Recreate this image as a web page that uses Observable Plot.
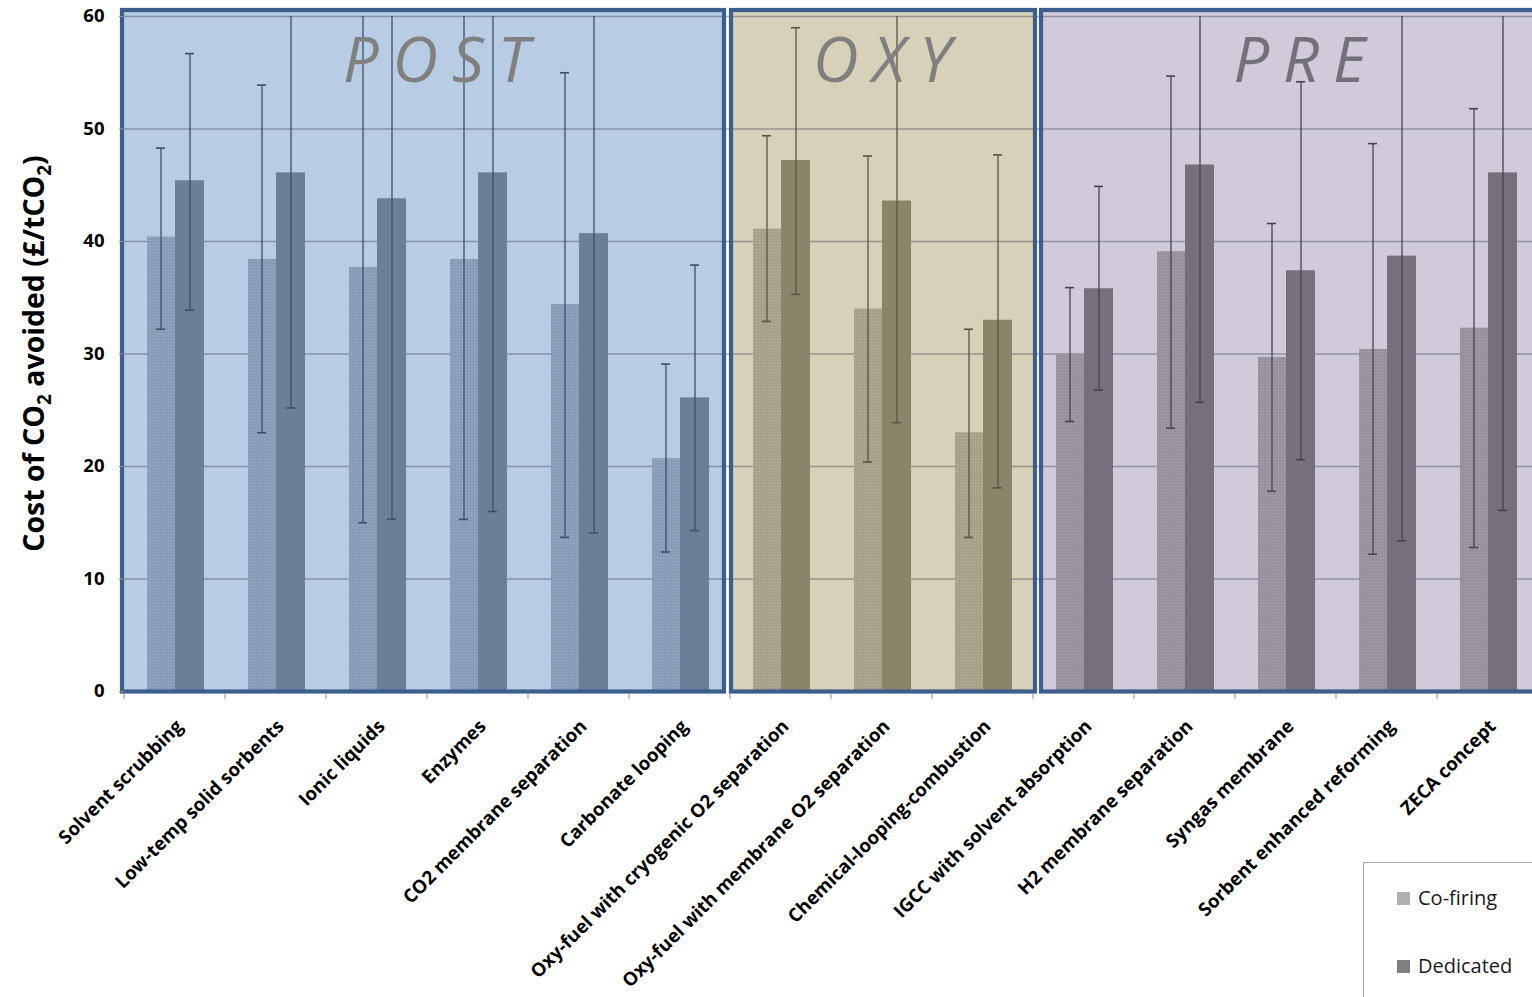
<!DOCTYPE html>
<html><head><meta charset="utf-8">
<script src="https://cdn.jsdelivr.net/npm/d3@7"></script>
<script src="https://cdn.jsdelivr.net/npm/@observablehq/plot@0.6"></script>
<style>
html,body{margin:0;padding:0;background:#fff;overflow:hidden;}
#wrap{position:relative;width:1532px;height:997px;overflow:hidden;}
#wrap svg{position:absolute;left:0;top:0;}
#legend{position:absolute;left:1363px;top:862px;width:200px;height:160px;border:1px solid #a6a6a6;background:#fff;font-family:'Open Sans',sans-serif;font-size:20px;color:#1a1a1a;}
.item{position:absolute;left:33px;display:flex;align-items:center;line-height:1;}
.sw{width:13px;height:13px;margin-right:8px;}
</style></head><body><div id="wrap"><div id="legend"></div></div>
<script>
// ---------- DATA ----------
const categories = [
  "Solvent scrubbing", "Low-temp solid sorbents", "Ionic liquids", "Enzymes",
  "CO2 membrane separation", "Carbonate looping",
  "Oxy-fuel with cryogenic O2 separation", "Oxy-fuel with membrane O2 separation",
  "Chemical-looping-combustion",
  "IGCC with solvent absorption", "H2 membrane separation", "Syngas membrane",
  "Sorbent enhanced reforming", "ZECA concept"
];
const groupOf = ["POST","POST","POST","POST","POST","POST","OXY","OXY","OXY","PRE","PRE","PRE","PRE","PRE"];
const groups = ["POST", "OXY", "PRE"];
const groupFirst = ["Solvent scrubbing", "Oxy-fuel with cryogenic O2 separation", "IGCC with solvent absorption"];
const groupLast = ["Carbonate looping", "Chemical-looping-combustion", "ZECA concept"];
const series = ["Co-firing", "Dedicated"];

const cofiring     = [40.4, 38.4, 37.7, 38.4, 34.4, 20.7, 41.1, 34.0, 23.0, 30.0, 39.1, 29.7, 30.4, 32.3];
const cofiringLow  = [32.2, 23.0, 15.0, 15.3, 13.7, 12.4, 32.9, 20.4, 13.7, 24.0, 23.4, 17.8, 12.2, 12.8];
const cofiringHigh = [48.3, 53.9, 60.0, 60.0, 55.0, 29.1, 49.4, 47.6, 32.2, 35.9, 54.7, 41.6, 48.7, 51.8];
const dedicated     = [45.4, 46.1, 43.8, 46.1, 40.7, 26.1, 47.2, 43.6, 33.0, 35.8, 46.8, 37.4, 38.7, 46.1];
const dedicatedLow  = [33.9, 25.2, 15.3, 16.0, 14.1, 14.3, 35.3, 23.9, 18.1, 26.8, 25.7, 20.6, 13.4, 16.1];
const dedicatedHigh = [56.7, 60.0, 60.0, 60.0, 60.0, 37.9, 59.0, 60.0, 47.7, 44.9, 60.0, 54.2, 60.0, 60.0];

const yTicks = [0, 10, 20, 30, 40, 50, 60];

// ---------- STYLE ----------
const regionBg   = {POST: "#b8cce4", OXY: "#d7d1b9", PRE: "#d0cada"};
const coColor    = {POST: "#8a9eb9", OXY: "#a8a28b", PRE: "#99939f"};
const dedColor   = {POST: "#6a7f98", OXY: "#8a846b", PRE: "#76707e"};
const errColor   = {POST: "#3e4f66", OXY: "#5a5544", PRE: "#48424f"};
const labelColor = {POST: "#808080", OXY: "#808080", PRE: "#74707c"};
const edgeLeft = [-2, 1, 8], edgeRight = [-6, 2, 10], labelShift = [20, 6, 12];
const borderColor = "#3b5e8c";
const xRange = [124, 1538];

// ---------- TABLE ----------
const rows = [];
categories.forEach((c, i) => {
  rows.push({category: c, group: groupOf[i], series: "Co-firing", value: cofiring[i], lo: cofiringLow[i], hi: cofiringHigh[i]});
  rows.push({category: c, group: groupOf[i], series: "Dedicated", value: dedicated[i], lo: dedicatedLow[i], hi: dedicatedHigh[i]});
});

function bandX(scales) {
  const x = scales && scales.x;
  if (x && typeof x.bandwidth === "function") return x;
  return d3.scaleBand(categories, xRange).padding(0);
}
function regionExtent(x, i) {
  const bw = x.bandwidth();
  return [x(groupFirst[i]) + edgeLeft[i], x(groupLast[i]) + bw + edgeRight[i]];
}

const regionFills = (index, scales) => {
  const x = bandX(scales), y = scales.y;
  const g = d3.create("svg:g");
  const defs = g.append("defs");
  groups.forEach(name => {
    const p = defs.append("pattern").attr("id", "tex-" + name).attr("patternUnits", "userSpaceOnUse").attr("width", 3).attr("height", 3);
    p.append("rect").attr("width", 3).attr("height", 3).attr("fill", coColor[name]);
    const c = d3.color(coColor[name]);
    p.append("rect").attr("x", 0).attr("y", 0).attr("width", 1).attr("height", 1).attr("fill", c.brighter(0.25).formatHex());
    p.append("rect").attr("x", 2).attr("y", 1).attr("width", 1).attr("height", 1).attr("fill", c.darker(0.15).formatHex());
  });
  groups.forEach((name, i) => {
    const [x1, x2] = regionExtent(x, i);
    g.append("rect").attr("x", x1).attr("width", x2 - x1)
      .attr("y", y(60) - 6).attr("height", y(0) - y(60) + 6.5)
      .attr("fill", regionBg[name]);
  });
  return g.node();
};
const regionBorders = (index, scales) => {
  const x = bandX(scales), y = scales.y;
  const g = d3.create("svg:g");
  groups.forEach((name, i) => {
    const [x1, x2] = regionExtent(x, i);
    g.append("rect").attr("x", x1).attr("width", x2 - x1)
      .attr("y", y(60) - 6).attr("height", y(0) - y(60) + 6.5)
      .attr("fill", "none").attr("stroke", borderColor).attr("stroke-width", 4.2);
  });
  return g.node();
};
const regionLabels = (index, scales) => {
  const x = bandX(scales), y = scales.y;
  const g = d3.create("svg:g");
  groups.forEach((name, i) => {
    const [x1, x2] = regionExtent(x, i);
    g.append("text").attr("x", (x1 + x2) / 2 + labelShift[i]).attr("y", y(60) + 66)
      .attr("text-anchor", "middle").attr("font-style", "italic").attr("font-size", 63)
      .attr("letter-spacing", 14).attr("fill", labelColor[name]).text(name);
  });
  return g.node();
};
const boundaryTicks = (index, scales, values, dims) => {
  const x = bandX(scales), y = scales.y, bw = x.bandwidth();
  const g = d3.create("svg:g").attr("stroke", "#8c8c8c").attr("stroke-width", 1);
  const xs = categories.map(c => x(c)).concat([x(categories[categories.length - 1]) + bw]);
  xs.forEach(v => g.append("line").attr("x1", v).attr("x2", v).attr("y1", y(0) + 2).attr("y2", y(0) + 8));
  return g.node();
};
const yTitle = (index, scales, values, dims) => {
  const cy = (dims.marginTop + dims.height - dims.marginBottom) / 2;
  const t = d3.create("svg:text").attr("transform", `translate(44,${cy}) rotate(-90)`)
    .attr("text-anchor", "middle").attr("font-weight", "bold").attr("font-size", 28.5).attr("fill", "#000");
  t.append("tspan").text("Cost of CO");
  t.append("tspan").attr("font-size", 19).attr("dy", 7).text("2");
  t.append("tspan").attr("dy", -7).text(" avoided (£/tCO");
  t.append("tspan").attr("font-size", 19).attr("dy", 7).text("2");
  t.append("tspan").attr("dy", -7).text(")");
  return t.node();
};

const marks = [regionFills, Plot.ruleY(yTicks.filter(v => v > 0), {stroke: "#3c465a", strokeOpacity: 0.42, strokeWidth: 1.3})];
groups.forEach(name => {
  const co = rows.filter(d => d.group === name && d.series === "Co-firing");
  const de = rows.filter(d => d.group === name && d.series === "Dedicated");
  marks.push(
    Plot.barY(co, {x: "category", y: "value", fill: `url(#tex-${name})`, insetLeft: 23, insetRight: 50}),
    Plot.barY(de, {x: "category", y: "value", fill: dedColor[name], insetLeft: 51, insetRight: 21}),
    Plot.ruleX(co, {x: "category", y1: "lo", y2: "hi", dx: -14, stroke: errColor[name], strokeWidth: 1.3}),
    Plot.ruleX(de, {x: "category", y1: "lo", y2: "hi", dx: 15, stroke: errColor[name], strokeWidth: 1.3}),
    Plot.tickY(co, {x: "category", y: "lo", insetLeft: 32, insetRight: 60, stroke: errColor[name], strokeWidth: 1.6}),
    Plot.tickY(co.filter(d => d.hi < 60), {x: "category", y: "hi", insetLeft: 32, insetRight: 60, stroke: errColor[name], strokeWidth: 1.6}),
    Plot.tickY(de, {x: "category", y: "lo", insetLeft: 61, insetRight: 31, stroke: errColor[name], strokeWidth: 1.6}),
    Plot.tickY(de.filter(d => d.hi < 60), {x: "category", y: "hi", insetLeft: 61, insetRight: 31, stroke: errColor[name], strokeWidth: 1.6})
  );
});
marks.push(
  regionBorders,
  regionLabels,
  boundaryTicks,
  Plot.axisY(yTicks, {tickSize: 5, tickPadding: 15, fontSize: 18.5, fontWeight: "bold", fill: "#000", stroke: "#8c8c8c", label: null}),
  Plot.text(categories, {x: d => d, frameAnchor: "bottom", rotate: -45, textAnchor: "end", lineAnchor: "bottom",
    dx: 9, dy: 36, fontSize: 18.7, fontWeight: "bold", fill: "#000"}),
  yTitle
);

const chart = Plot.plot({
  width: 1532, height: 997,
  marginTop: 16, marginBottom: 306, marginLeft: 124, marginRight: 0,
  style: {fontFamily: "'Open Sans', sans-serif", background: "white", overflow: "hidden"},
  x: {domain: categories, range: xRange, padding: 0, axis: null},
  y: {domain: [0, 60], axis: null},
  marks
});
document.getElementById("wrap").prepend(chart);

// legend
const legend = d3.select("#legend");
const legendItems = [{label: series[0], color: "#b0b0b0", top: 25}, {label: series[1], color: "#7f7f7f", top: 93}];
legendItems.forEach(it => {
  const row = legend.append("div").attr("class", "item").style("top", it.top + "px");
  row.append("div").attr("class", "sw").style("background", it.color);
  row.append("span").text(it.label);
});
</script>
</body></html>
